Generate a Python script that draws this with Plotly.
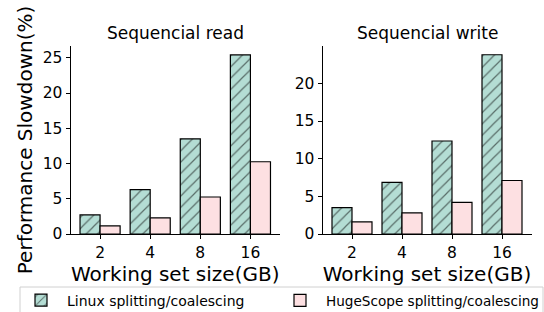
import plotly.graph_objects as go
from plotly.subplots import make_subplots

categories = ["2", "4", "8", "16"]
read_linux = [2.7, 6.3, 13.5, 25.4]
read_huge = [1.15, 2.3, 5.25, 10.25]
write_linux = [3.5, 6.85, 12.35, 23.8]
write_huge = [1.6, 2.8, 4.2, 7.1]
series_names = ["Linux splitting/coalescing", "HugeScope splitting/coalescing"]
titles = ["Sequencial read", "Sequencial write"]

W, H = 544, 312
teal = "#b4ddd4"
pink = "#fde0e2"
FONT = "DejaVu Sans"

fig = make_subplots(rows=1, cols=2)

def add(col, lin, hug, show):
    fig.add_trace(go.Bar(x=categories, y=lin, name=series_names[0], showlegend=show,
                         marker=dict(color=teal, line=dict(color="black", width=1.2),
                                     pattern=dict(shape="/", fgcolor="black", bgcolor=teal,
                                                  size=8, solidity=0.15)),
                         legend="legend"), row=1, col=col)
    fig.add_trace(go.Bar(x=categories, y=hug, name=series_names[1], showlegend=show,
                         marker=dict(color=pink, line=dict(color="black", width=1.2)),
                         legend="legend2"), row=1, col=col)

add(1, read_linux, read_huge, True)
add(2, write_linux, write_huge, False)

ax_common = dict(showline=True, linecolor="black", linewidth=1, ticks="outside",
                 ticklen=4, tickcolor="black", showgrid=False, zeroline=False,
                 tickfont=dict(family=FONT, size=15.5, color="black"), automargin=False)

fig.update_xaxes(range=[-0.59, 3.59], **ax_common)
fig.update_yaxes(**ax_common)

leg_common = dict(orientation="h", yanchor="middle", y=(H - 300.5) / H,
                  itemwidth=42, bgcolor="rgba(0,0,0,0)", borderwidth=0)

fig.update_layout(
    width=W, height=H,
    margin=dict(l=0, r=0, t=0, b=0, autoexpand=False),
    paper_bgcolor="white", plot_bgcolor="white",
    barmode="group", bargap=0.2, bargroupgap=0,
    font=dict(family=FONT, color="black"),
    xaxis=dict(domain=[70.5 / W, 280 / W],
               title=dict(text="Working set size(GB)", font=dict(size=20), standoff=2)),
    xaxis2=dict(domain=[322.5 / W, 531.5 / W],
                title=dict(text="Working set size(GB)", font=dict(size=20), standoff=2)),
    yaxis=dict(domain=[(H - 234) / H, (H - 46) / H], range=[0, 26.67],
               tickvals=[0, 5, 10, 15, 20, 25],
               title=dict(text="Performance Slowdown(%)", font=dict(size=20), standoff=4)),
    yaxis2=dict(domain=[(H - 234) / H, (H - 46) / H], range=[0, 24.96],
                tickvals=[0, 5, 10, 15, 20]),
    legend=dict(x=15 / W, xanchor="left",
                font=dict(family=FONT, size=14, color="black"), **leg_common),
    legend2=dict(x=1, xanchor="right",
                 font=dict(family=FONT, size=13.6, color="black"), **leg_common),
)

# legend frame
fig.add_shape(type="rect", xref="paper", yref="paper",
              x0=20 / W, x1=543 / W, y0=-0.1, y1=(H - 287) / H,
              line=dict(color="#d0d0d0", width=1), fillcolor="rgba(0,0,0,0)", layer="below")

for i, t in enumerate(titles):
    cx = [175.25 / W, 427 / W][i]
    fig.add_annotation(text=t, x=cx, y=(H - 33) / H, xref="paper", yref="paper",
                       showarrow=False, xanchor="center", yanchor="middle",
                       font=dict(family=FONT, size=17, color="black"))

fig.write_html("out.html", config={"displayModeBar": False},
               post_script="document.body.style.margin='0';document.body.style.overflow='hidden';")
